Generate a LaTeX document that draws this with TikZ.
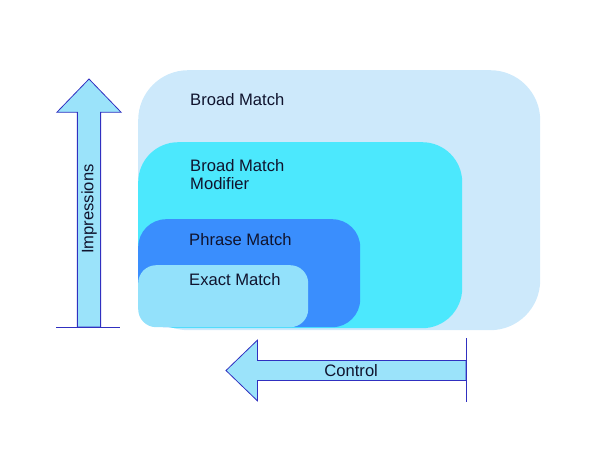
\documentclass[tikz,border=0pt]{standalone}
\usepackage{fontspec}
\setmainfont{Liberation Sans}
\usetikzlibrary{shapes.arrows,positioning,calc}

\definecolor{broadcol}{HTML}{CDE9FB}
\definecolor{modcol}{HTML}{4CE8FD}
\definecolor{phrasecol}{HTML}{3A8EFD}
\definecolor{exactcol}{HTML}{93E1FB}
\definecolor{arrowfill}{HTML}{9BE3FA}
\definecolor{arrowline}{HTML}{3030C0}
\definecolor{txtcol}{HTML}{10142E}

\tikzset{
  box/.style={draw=none,anchor=north west,inner sep=0pt},
  lbl/.style={anchor=west,inner sep=0pt,align=left,text=txtcol,
    font=\fontsize{16.6}{18}\selectfont},
  bigarrow/.style={single arrow,draw=arrowline,fill=arrowfill,line width=0.8pt,
    single arrow head extend=20.5pt,single arrow tip angle=88,outer sep=0pt,
    inner xsep=4pt,inner ysep=3.5pt,text=txtcol,font=\fontsize{16.6}{18}\selectfont},
  tailbar/.style={draw=arrowline,line width=1pt}
}

\begin{document}
\begin{tikzpicture}[x=1pt,y=-1pt]
   \useasboundingbox (0,0) rectangle (600,450);

   % nested match type boxes
   \node[box,fill=broadcol,minimum width=402pt,minimum height=260pt,rounded corners=50pt] (bm) at (138,70) {};
   \node[box,fill=modcol,minimum width=324pt,minimum height=186pt,rounded corners=40pt] (bmm) at (138,142) {};
   \node[box,fill=phrasecol,minimum width=222pt,minimum height=108pt,rounded corners=28pt] (pm) at (138,219) {};
   \node[box,fill=exactcol,minimum width=170pt,minimum height=62pt,rounded corners=18pt] (em) at (138,265) {};

   \node[lbl] (bmtxt) at ([shift={(52,30)}]bm.north west) {Broad Match};
   \node[lbl] (bmmtxt) at ([shift={(52,33)}]bmm.north west) {Broad Match\\Modifier};
   \node[lbl] (pmtxt) at ([shift={(51,21)}]pm.north west) {Phrase Match};
   \node[lbl] (emtxt) at ([shift={(51,15)}]em.north west) {Exact Match};

   % arrows
   \node[bigarrow,rotate=90,minimum height=248pt,anchor=tail] (imp) at (89,327) {Impressions};
   \node[bigarrow,shape border rotate=180,minimum height=240pt,anchor=tail] (ctrl) at (466,370.5) {Control};

   \coordinate (impl) at (56,327);
   \coordinate (impr) at (120,327);
   \coordinate (ctrlt) at (466,338);
   \coordinate (ctrlb) at (466,402);
   \draw[tailbar] (impl) -- (impr);
   \draw[tailbar] (ctrlt) -- (ctrlb);
\end{tikzpicture}
\end{document}
